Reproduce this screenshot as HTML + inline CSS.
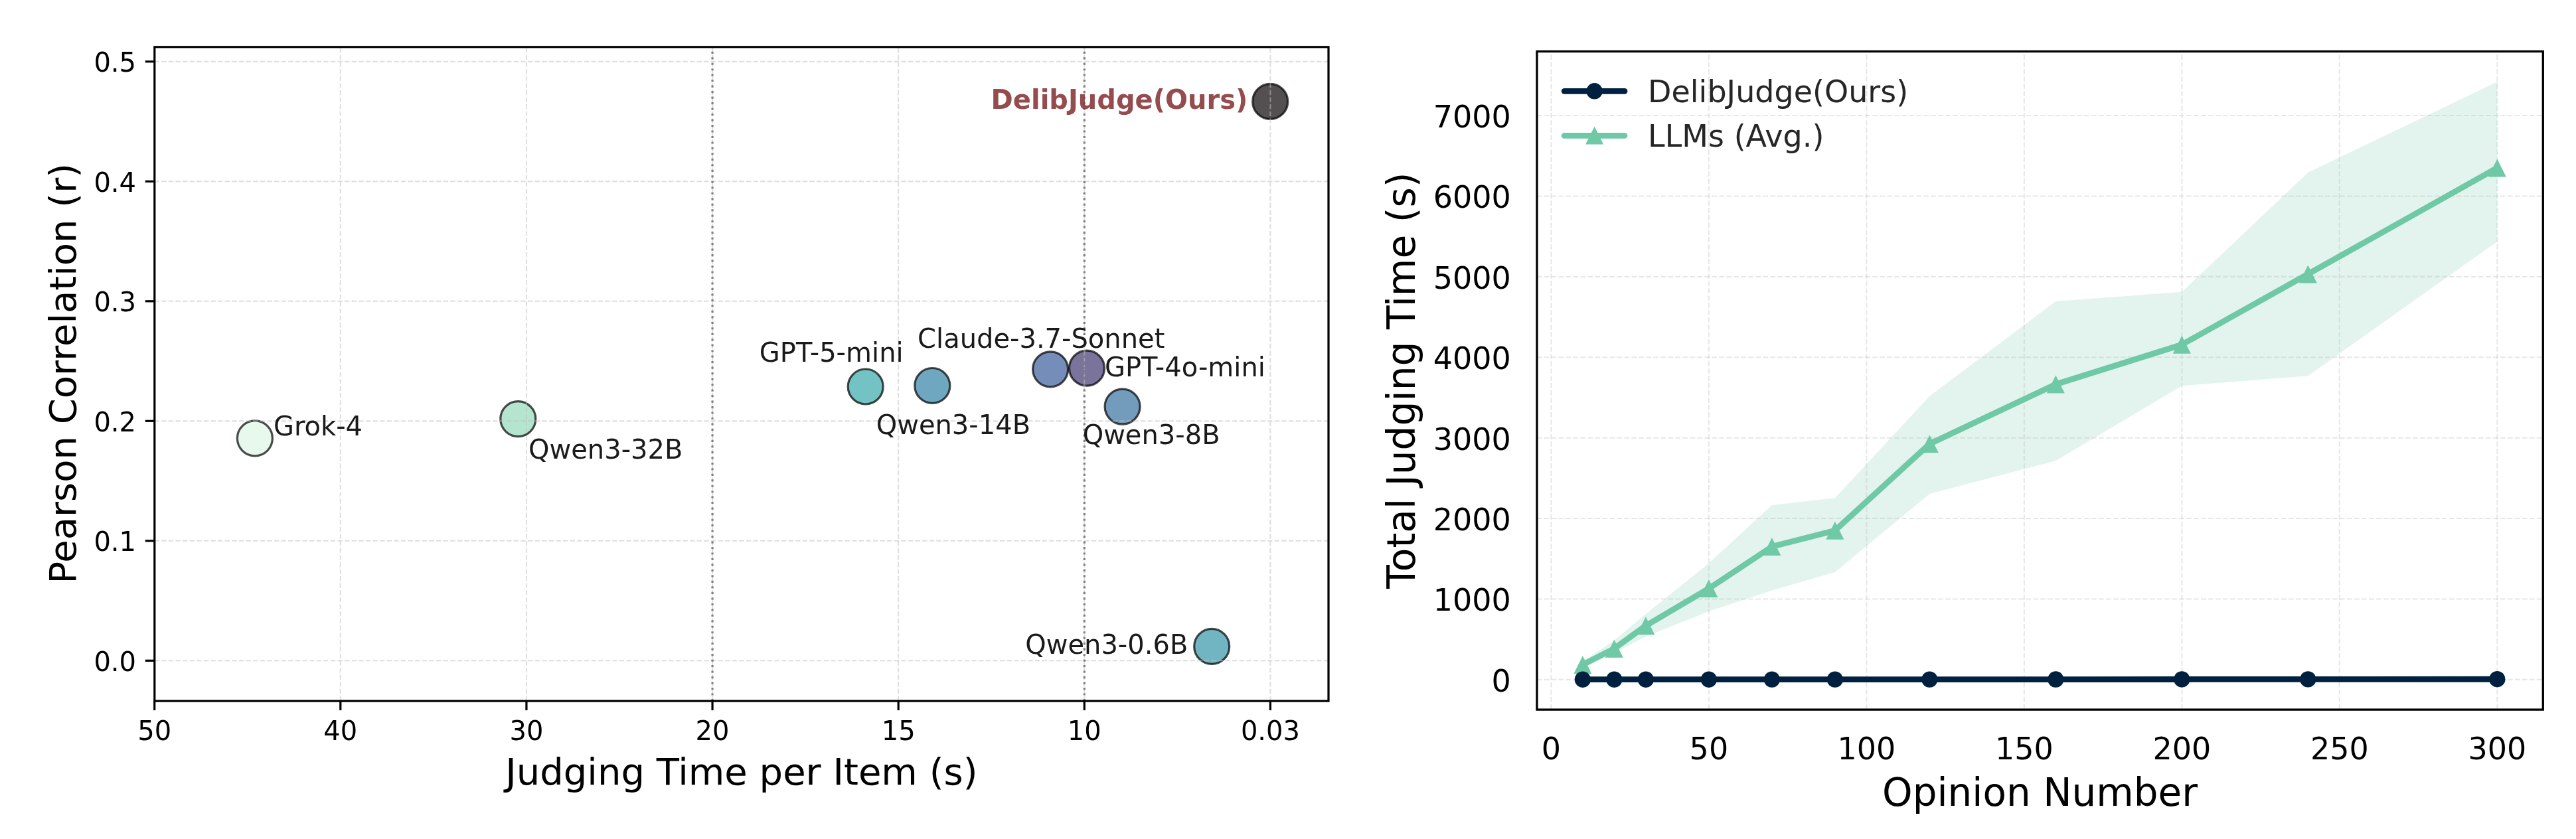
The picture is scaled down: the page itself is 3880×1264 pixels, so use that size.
<!DOCTYPE html>
<html><head><meta charset="utf-8"><title>DelibJudge efficiency</title>
<style>
html,body{margin:0;padding:0;background:#fff;}
body{width:3880px;height:1264px;overflow:hidden;}
svg{display:block;will-change:transform;}
svg text{font-family:'DejaVu Sans', 'Liberation Sans', sans-serif;}
</style></head>
<body>
<svg width="3880" height="1264" viewBox="0 0 3880 1264" font-family="DejaVu Sans, Liberation Sans, sans-serif" fill="#000">
<rect x="0" y="0" width="3880" height="1264" fill="#fff"/>
<g id="left">
<circle cx="383.9" cy="660.3" r="26.5" fill="rgb(221, 245, 229)" fill-opacity="0.7" stroke="#000" stroke-opacity="0.7" stroke-width="3.2"/>
<circle cx="780.3" cy="631.1" r="26.5" fill="rgb(148, 218, 185)" fill-opacity="0.7" stroke="#000" stroke-opacity="0.7" stroke-width="3.2"/>
<circle cx="1303.7" cy="582.5" r="26.5" fill="rgb(56, 169, 171)" fill-opacity="0.7" stroke="#000" stroke-opacity="0.7" stroke-width="3.2"/>
<circle cx="1404.3" cy="581.0" r="26.5" fill="rgb(51, 129, 165)" fill-opacity="0.7" stroke="#000" stroke-opacity="0.7" stroke-width="3.2"/>
<circle cx="1582.1" cy="556.3" r="26.5" fill="rgb(59, 94, 155)" fill-opacity="0.7" stroke="#000" stroke-opacity="0.7" stroke-width="3.2"/>
<circle cx="1637.0" cy="554.7" r="26.5" fill="rgb(65, 56, 112)" fill-opacity="0.7" stroke="#000" stroke-opacity="0.7" stroke-width="3.2"/>
<circle cx="1690.6" cy="612.6" r="26.5" fill="rgb(56, 114, 159)" fill-opacity="0.7" stroke="#000" stroke-opacity="0.7" stroke-width="3.2"/>
<circle cx="1825.2" cy="973.9" r="26.5" fill="rgb(52, 149, 168)" fill-opacity="0.7" stroke="#000" stroke-opacity="0.7" stroke-width="3.2"/>
<circle cx="1913.2" cy="152.9" r="26.5" fill="rgb(11, 5, 8)" fill-opacity="0.7" stroke="#000" stroke-opacity="0.7" stroke-width="3.2"/>
<line x1="232.8" y1="995.30" x2="2001.0" y2="995.30" stroke="#c0c0c0" stroke-opacity="0.53" stroke-width="2" stroke-dasharray="7.408 3.203" fill="none" stroke-dashoffset="0.23"/>
<line x1="232.8" y1="814.80" x2="2001.0" y2="814.80" stroke="#c0c0c0" stroke-opacity="0.53" stroke-width="2" stroke-dasharray="7.408 3.203" fill="none" stroke-dashoffset="0.23"/>
<line x1="232.8" y1="634.30" x2="2001.0" y2="634.30" stroke="#c0c0c0" stroke-opacity="0.53" stroke-width="2" stroke-dasharray="7.408 3.203" fill="none" stroke-dashoffset="0.23"/>
<line x1="232.8" y1="453.80" x2="2001.0" y2="453.80" stroke="#c0c0c0" stroke-opacity="0.53" stroke-width="2" stroke-dasharray="7.408 3.203" fill="none" stroke-dashoffset="0.23"/>
<line x1="232.8" y1="273.30" x2="2001.0" y2="273.30" stroke="#c0c0c0" stroke-opacity="0.53" stroke-width="2" stroke-dasharray="7.408 3.203" fill="none" stroke-dashoffset="0.23"/>
<line x1="232.8" y1="92.80" x2="2001.0" y2="92.80" stroke="#c0c0c0" stroke-opacity="0.53" stroke-width="2" stroke-dasharray="7.408 3.203" fill="none" stroke-dashoffset="0.23"/>
<line x1="232.70" y1="1056.1" x2="232.70" y2="70.8" stroke="#c0c0c0" stroke-opacity="0.53" stroke-width="2" stroke-dasharray="7.408 3.203" fill="none" stroke-dashoffset="-0.3"/>
<line x1="512.82" y1="1056.1" x2="512.82" y2="70.8" stroke="#c0c0c0" stroke-opacity="0.53" stroke-width="2" stroke-dasharray="7.408 3.203" fill="none" stroke-dashoffset="-0.3"/>
<line x1="792.94" y1="1056.1" x2="792.94" y2="70.8" stroke="#c0c0c0" stroke-opacity="0.53" stroke-width="2" stroke-dasharray="7.408 3.203" fill="none" stroke-dashoffset="-0.3"/>
<line x1="1073.06" y1="1056.1" x2="1073.06" y2="70.8" stroke="#c0c0c0" stroke-opacity="0.53" stroke-width="2" stroke-dasharray="7.408 3.203" fill="none" stroke-dashoffset="-0.3"/>
<line x1="1353.18" y1="1056.1" x2="1353.18" y2="70.8" stroke="#c0c0c0" stroke-opacity="0.53" stroke-width="2" stroke-dasharray="7.408 3.203" fill="none" stroke-dashoffset="-0.3"/>
<line x1="1633.30" y1="1056.1" x2="1633.30" y2="70.8" stroke="#c0c0c0" stroke-opacity="0.53" stroke-width="2" stroke-dasharray="7.408 3.203" fill="none" stroke-dashoffset="-0.3"/>
<line x1="1913.42" y1="1056.1" x2="1913.42" y2="70.8" stroke="#c0c0c0" stroke-opacity="0.53" stroke-width="2" stroke-dasharray="7.408 3.203" fill="none" stroke-dashoffset="-0.3"/>
<line x1="1073.06" y1="1056.1" x2="1073.06" y2="70.8" stroke="#808080" stroke-width="3.2" stroke-dasharray="3.2 5.28"/>
<line x1="1633.30" y1="1056.1" x2="1633.30" y2="70.8" stroke="#808080" stroke-width="3.2" stroke-dasharray="3.2 5.28"/>
<text x="411.96" y="655.8" font-size="40" fill="#1a1a1a">Grok-4</text>
<text x="796.06" y="690.8" font-size="40" fill="#1a1a1a">Qwen3-32B</text>
<text x="1143.86" y="544.7" font-size="40" fill="#1a1a1a">GPT-5-mini</text>
<text x="1319.7" y="654.3" font-size="40" fill="#1a1a1a">Qwen3-14B</text>
<text x="1382.1" y="523.5" font-size="40" fill="#1a1a1a">Claude-3.7-Sonnet</text>
<text x="1663.96" y="566.5" font-size="40" fill="#1a1a1a">GPT-4o-mini</text>
<text x="1630.66" y="668.7" font-size="40" fill="#1a1a1a">Qwen3-8B</text>
<text x="1544.26" y="984.8" font-size="40" fill="#1a1a1a">Qwen3-0.6B</text>
<text x="1492.6" y="163.7" font-size="40" font-weight="bold" fill="#8a393b" fill-opacity="0.9">DelibJudge(Ours)</text>
<rect x="232.8" y="70.8" width="1768.20" height="985.30" fill="none" stroke="#000" stroke-width="3.2" stroke-linejoin="miter"/>
<line x1="218.80" y1="995.30" x2="232.8" y2="995.30" stroke="#000" stroke-width="3.2"/>
<text x="205.0" y="1010.80" font-size="40" text-anchor="end">0.0</text>
<line x1="218.80" y1="814.80" x2="232.8" y2="814.80" stroke="#000" stroke-width="3.2"/>
<text x="205.0" y="830.30" font-size="40" text-anchor="end">0.1</text>
<line x1="218.80" y1="634.30" x2="232.8" y2="634.30" stroke="#000" stroke-width="3.2"/>
<text x="205.0" y="649.80" font-size="40" text-anchor="end">0.2</text>
<line x1="218.80" y1="453.80" x2="232.8" y2="453.80" stroke="#000" stroke-width="3.2"/>
<text x="205.0" y="469.30" font-size="40" text-anchor="end">0.3</text>
<line x1="218.80" y1="273.30" x2="232.8" y2="273.30" stroke="#000" stroke-width="3.2"/>
<text x="205.0" y="288.80" font-size="40" text-anchor="end">0.4</text>
<line x1="218.80" y1="92.80" x2="232.8" y2="92.80" stroke="#000" stroke-width="3.2"/>
<text x="205.0" y="108.30" font-size="40" text-anchor="end">0.5</text>
<line x1="232.70" y1="1056.1" x2="232.70" y2="1070.10" stroke="#000" stroke-width="3.2"/>
<text x="232.70" y="1115.0" font-size="40" text-anchor="middle">50</text>
<line x1="512.82" y1="1056.1" x2="512.82" y2="1070.10" stroke="#000" stroke-width="3.2"/>
<text x="512.82" y="1115.0" font-size="40" text-anchor="middle">40</text>
<line x1="792.94" y1="1056.1" x2="792.94" y2="1070.10" stroke="#000" stroke-width="3.2"/>
<text x="792.94" y="1115.0" font-size="40" text-anchor="middle">30</text>
<line x1="1073.06" y1="1056.1" x2="1073.06" y2="1070.10" stroke="#000" stroke-width="3.2"/>
<text x="1073.06" y="1115.0" font-size="40" text-anchor="middle">20</text>
<line x1="1353.18" y1="1056.1" x2="1353.18" y2="1070.10" stroke="#000" stroke-width="3.2"/>
<text x="1353.18" y="1115.0" font-size="40" text-anchor="middle">15</text>
<line x1="1633.30" y1="1056.1" x2="1633.30" y2="1070.10" stroke="#000" stroke-width="3.2"/>
<text x="1633.30" y="1115.0" font-size="40" text-anchor="middle">10</text>
<line x1="1913.42" y1="1056.1" x2="1913.42" y2="1070.10" stroke="#000" stroke-width="3.2"/>
<text x="1913.42" y="1115.0" font-size="40" text-anchor="middle">0.03</text>
<text x="1116.9" y="1181.7" font-size="56" text-anchor="middle">Judging Time per Item (s)</text>
<text transform="translate(113.6 562.75) rotate(-90)" x="0" y="0" font-size="56" text-anchor="middle">Pearson Correlation (r)</text>
</g>
<g id="right">
<polygon points="2383.90,996.58 2431.39,964.77 2478.89,925.07 2573.89,848.46 2668.88,761.05 2763.87,750.36 2906.36,596.66 3096.35,454.00 3286.34,439.80 3476.33,259.99 3761.31,123.16 3761.31,363.92 3476.33,566.18 3286.34,581.24 3096.35,694.15 2906.36,743.93 2763.87,862.06 2668.88,889.50 2573.89,921.07 2478.89,959.07 2431.39,983.83 2383.90,1006.78" fill="#6fc8a6" fill-opacity="0.2"/>
<line x1="2315.0" y1="1023.90" x2="3830.3" y2="1023.90" stroke="#c0c0c0" stroke-opacity="0.38" stroke-width="2.07" stroke-dasharray="7.676 3.319" fill="none" stroke-dashoffset="0.47"/>
<line x1="2315.0" y1="902.49" x2="3830.3" y2="902.49" stroke="#c0c0c0" stroke-opacity="0.38" stroke-width="2.07" stroke-dasharray="7.676 3.319" fill="none" stroke-dashoffset="0.47"/>
<line x1="2315.0" y1="781.08" x2="3830.3" y2="781.08" stroke="#c0c0c0" stroke-opacity="0.38" stroke-width="2.07" stroke-dasharray="7.676 3.319" fill="none" stroke-dashoffset="0.47"/>
<line x1="2315.0" y1="659.67" x2="3830.3" y2="659.67" stroke="#c0c0c0" stroke-opacity="0.38" stroke-width="2.07" stroke-dasharray="7.676 3.319" fill="none" stroke-dashoffset="0.47"/>
<line x1="2315.0" y1="538.26" x2="3830.3" y2="538.26" stroke="#c0c0c0" stroke-opacity="0.38" stroke-width="2.07" stroke-dasharray="7.676 3.319" fill="none" stroke-dashoffset="0.47"/>
<line x1="2315.0" y1="416.85" x2="3830.3" y2="416.85" stroke="#c0c0c0" stroke-opacity="0.38" stroke-width="2.07" stroke-dasharray="7.676 3.319" fill="none" stroke-dashoffset="0.47"/>
<line x1="2315.0" y1="295.44" x2="3830.3" y2="295.44" stroke="#c0c0c0" stroke-opacity="0.38" stroke-width="2.07" stroke-dasharray="7.676 3.319" fill="none" stroke-dashoffset="0.47"/>
<line x1="2315.0" y1="174.03" x2="3830.3" y2="174.03" stroke="#c0c0c0" stroke-opacity="0.38" stroke-width="2.07" stroke-dasharray="7.676 3.319" fill="none" stroke-dashoffset="0.47"/>
<line x1="2336.40" y1="1069.1" x2="2336.40" y2="77.5" stroke="#c0c0c0" stroke-opacity="0.38" stroke-width="2.07" stroke-dasharray="7.676 3.319" fill="none" stroke-dashoffset="-0.52"/>
<line x1="2573.89" y1="1069.1" x2="2573.89" y2="77.5" stroke="#c0c0c0" stroke-opacity="0.38" stroke-width="2.07" stroke-dasharray="7.676 3.319" fill="none" stroke-dashoffset="-0.52"/>
<line x1="2811.37" y1="1069.1" x2="2811.37" y2="77.5" stroke="#c0c0c0" stroke-opacity="0.38" stroke-width="2.07" stroke-dasharray="7.676 3.319" fill="none" stroke-dashoffset="-0.52"/>
<line x1="3048.86" y1="1069.1" x2="3048.86" y2="77.5" stroke="#c0c0c0" stroke-opacity="0.38" stroke-width="2.07" stroke-dasharray="7.676 3.319" fill="none" stroke-dashoffset="-0.52"/>
<line x1="3286.34" y1="1069.1" x2="3286.34" y2="77.5" stroke="#c0c0c0" stroke-opacity="0.38" stroke-width="2.07" stroke-dasharray="7.676 3.319" fill="none" stroke-dashoffset="-0.52"/>
<line x1="3523.82" y1="1069.1" x2="3523.82" y2="77.5" stroke="#c0c0c0" stroke-opacity="0.38" stroke-width="2.07" stroke-dasharray="7.676 3.319" fill="none" stroke-dashoffset="-0.52"/>
<line x1="3761.31" y1="1069.1" x2="3761.31" y2="77.5" stroke="#c0c0c0" stroke-opacity="0.38" stroke-width="2.07" stroke-dasharray="7.676 3.319" fill="none" stroke-dashoffset="-0.52"/>
<polyline points="2383.90,1001.44 2431.39,977.16 2478.89,942.68 2573.89,886.59 2668.88,823.57 2763.87,799.29 2906.36,668.65 3096.35,579.05 3286.34,519.20 3476.33,412.96 3761.31,252.95" fill="none" stroke="#6fc8a6" stroke-width="8.8" stroke-linejoin="round" stroke-linecap="round"/>
<polygon points="2383.90,987.94 2370.40,1014.94 2397.40,1014.94" fill="#6fc8a6"/>
<polygon points="2431.39,963.66 2417.89,990.66 2444.89,990.66" fill="#6fc8a6"/>
<polygon points="2478.89,929.18 2465.39,956.18 2492.39,956.18" fill="#6fc8a6"/>
<polygon points="2573.89,873.09 2560.39,900.09 2587.39,900.09" fill="#6fc8a6"/>
<polygon points="2668.88,810.07 2655.38,837.07 2682.38,837.07" fill="#6fc8a6"/>
<polygon points="2763.87,785.79 2750.37,812.79 2777.37,812.79" fill="#6fc8a6"/>
<polygon points="2906.36,655.15 2892.86,682.15 2919.86,682.15" fill="#6fc8a6"/>
<polygon points="3096.35,565.55 3082.85,592.55 3109.85,592.55" fill="#6fc8a6"/>
<polygon points="3286.34,505.70 3272.84,532.70 3299.84,532.70" fill="#6fc8a6"/>
<polygon points="3476.33,399.46 3462.83,426.46 3489.83,426.46" fill="#6fc8a6"/>
<polygon points="3761.31,239.45 3747.81,266.45 3774.81,266.45" fill="#6fc8a6"/>
<polyline points="2383.90,1023.72 2431.39,1023.72 2478.89,1023.72 2573.89,1023.72 2668.88,1023.66 2763.87,1023.66 2906.36,1023.60 3096.35,1023.54 3286.34,1023.48 3476.33,1023.41 3761.31,1023.23" fill="none" stroke="#002040" stroke-width="8.8" stroke-linejoin="round" stroke-linecap="round"/>
<circle cx="2383.90" cy="1023.72" r="12.2" fill="#002040"/>
<circle cx="2431.39" cy="1023.72" r="12.2" fill="#002040"/>
<circle cx="2478.89" cy="1023.72" r="12.2" fill="#002040"/>
<circle cx="2573.89" cy="1023.72" r="12.2" fill="#002040"/>
<circle cx="2668.88" cy="1023.66" r="12.2" fill="#002040"/>
<circle cx="2763.87" cy="1023.66" r="12.2" fill="#002040"/>
<circle cx="2906.36" cy="1023.60" r="12.2" fill="#002040"/>
<circle cx="3096.35" cy="1023.54" r="12.2" fill="#002040"/>
<circle cx="3286.34" cy="1023.48" r="12.2" fill="#002040"/>
<circle cx="3476.33" cy="1023.41" r="12.2" fill="#002040"/>
<circle cx="3761.31" cy="1023.23" r="12.2" fill="#002040"/>
<rect x="2315.0" y="77.5" width="1515.30" height="991.60" fill="none" stroke="#000" stroke-width="3.3" stroke-linejoin="miter"/>
<text x="2275.8" y="1041.80" font-size="46" text-anchor="end">0</text>
<text x="2275.8" y="920.39" font-size="46" text-anchor="end">1000</text>
<text x="2275.8" y="798.98" font-size="46" text-anchor="end">2000</text>
<text x="2275.8" y="677.57" font-size="46" text-anchor="end">3000</text>
<text x="2275.8" y="556.16" font-size="46" text-anchor="end">4000</text>
<text x="2275.8" y="434.75" font-size="46" text-anchor="end">5000</text>
<text x="2275.8" y="313.34" font-size="46" text-anchor="end">6000</text>
<text x="2275.8" y="191.93" font-size="46" text-anchor="end">7000</text>
<text x="2336.40" y="1143.5" font-size="46" text-anchor="middle">0</text>
<text x="2573.89" y="1143.5" font-size="46" text-anchor="middle">50</text>
<text x="2811.37" y="1143.5" font-size="46" text-anchor="middle">100</text>
<text x="3048.86" y="1143.5" font-size="46" text-anchor="middle">150</text>
<text x="3286.34" y="1143.5" font-size="46" text-anchor="middle">200</text>
<text x="3523.82" y="1143.5" font-size="46" text-anchor="middle">250</text>
<text x="3761.31" y="1143.5" font-size="46" text-anchor="middle">300</text>
<text x="3072.6" y="1214.0" font-size="58" text-anchor="middle">Opinion Number</text>
<text transform="translate(2130.9 573.15) rotate(-90)" x="0" y="0" font-size="58.2" text-anchor="middle">Total Judging Time (s)</text>
<line x1="2356.2" y1="137.3" x2="2447.0" y2="137.3" stroke="#002040" stroke-width="8.8" stroke-linecap="round"/>
<circle cx="2401.6" cy="137.3" r="12.2" fill="#002040"/>
<line x1="2356.2" y1="204.4" x2="2447.0" y2="204.4" stroke="#6fc8a6" stroke-width="8.8" stroke-linecap="round"/>
<polygon points="2401.60,190.50 2388.10,217.50 2415.10,217.50" fill="#6fc8a6"/>
<text x="2482.1" y="153.7" font-size="46" fill="#262626">DelibJudge(Ours)</text>
<text x="2482.1" y="221.0" font-size="46" fill="#262626">LLMs (Avg.)</text>
</g>
</svg>
</body></html>
